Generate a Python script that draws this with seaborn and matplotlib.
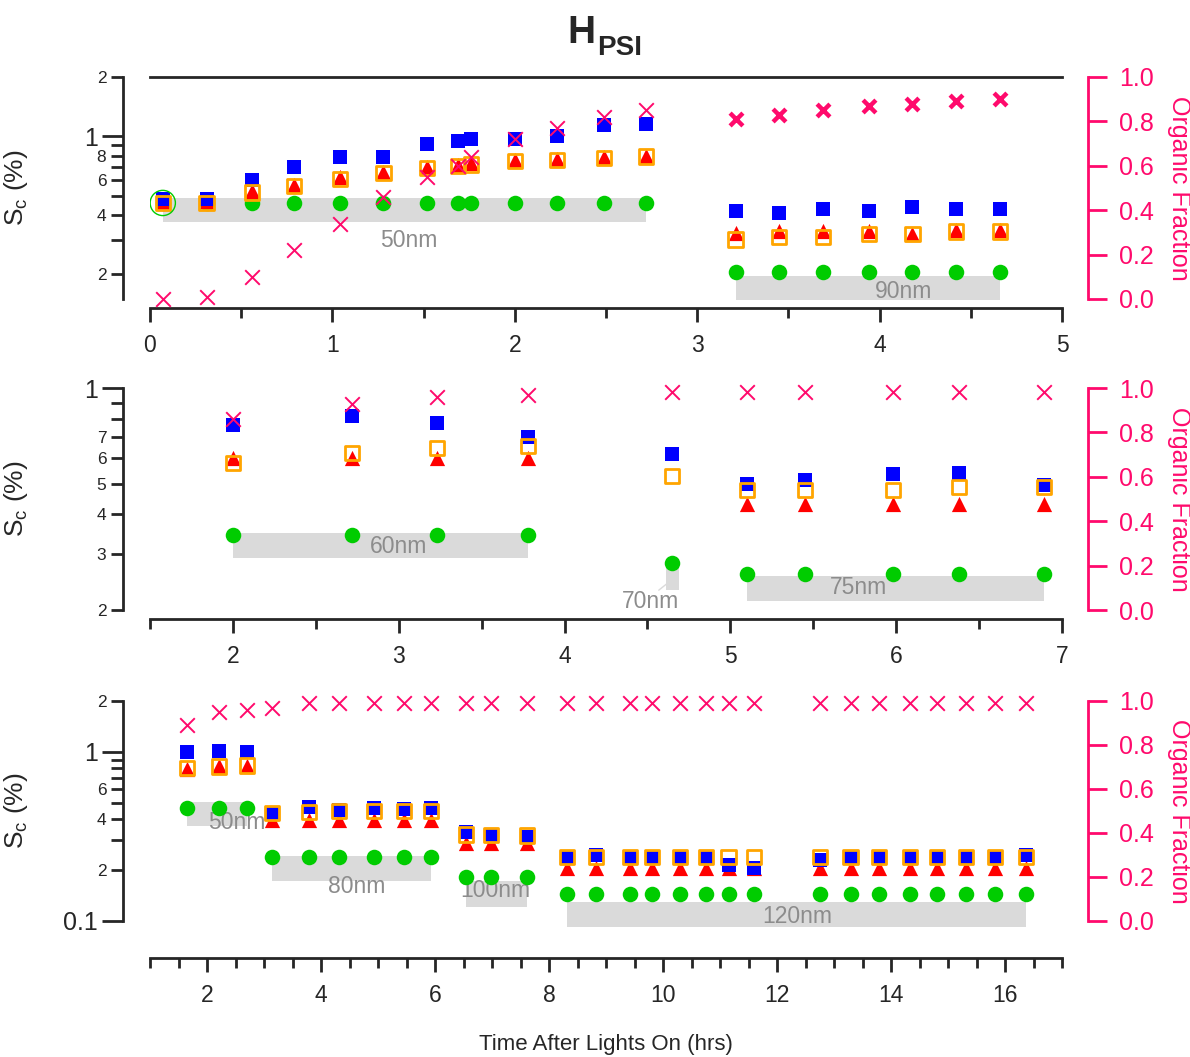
import numpy as np
import matplotlib.pyplot as plt
import seaborn as sns
from matplotlib.ticker import FixedLocator, FuncFormatter, MultipleLocator

sns.set_style("ticks")
plt.rcParams['font.family'] = ['Liberation Sans', 'DejaVu Sans']

# ---- data: top panel (0-5 h) ----
t1 = [0.07, 0.31, 0.56, 0.79, 1.04, 1.28, 1.52, 1.69, 1.76, 2.00, 2.23, 2.49, 2.72,
      3.21, 3.45, 3.69, 3.94, 4.18, 4.42, 4.66]
size1 = [50] * 13 + [90] * 7
blue1 = [0.48, 0.48, 0.60, 0.70, 0.79, 0.79, 0.92, 0.95, 0.97, 0.97, 1.00, 1.14, 1.15,
         0.42, 0.41, 0.43, 0.42, 0.44, 0.43, 0.43]
orange1 = [0.46, 0.46, 0.52, 0.56, 0.61, 0.65, 0.69, 0.71, 0.72, 0.75, 0.76, 0.78, 0.79,
           0.30, 0.31, 0.31, 0.32, 0.32, 0.33, 0.33]
red1 = [0.46, 0.47, 0.53, 0.57, 0.62, 0.66, 0.70, 0.72, 0.73, 0.76, 0.77, 0.79, 0.80,
        0.325, 0.33, 0.33, 0.33, 0.32, 0.335, 0.335]
green1 = [0.46] * 13 + [0.205] * 7
frac1 = [0.00, 0.01, 0.10, 0.22, 0.34, 0.46, 0.55, 0.60, 0.64, 0.72, 0.77, 0.82, 0.85,
         0.81, 0.83, 0.85, 0.87, 0.88, 0.89, 0.90]

# ---- data: middle panel ----
t2 = [2.00, 2.72, 3.23, 3.78, 4.65, 5.10, 5.45, 5.98, 6.38, 6.89]
size2 = [60] * 4 + [70] + [75] * 5
blue2 = [0.765, 0.816, 0.775, 0.70, 0.62, 0.50, 0.515, 0.535, 0.54, 0.495]
orange2 = [0.58, 0.625, 0.646, 0.657, 0.528, 0.477, 0.477, 0.477, 0.489, 0.489]
red2 = [0.60, 0.60, 0.60, 0.60, np.nan, 0.43, 0.43, 0.43, 0.43, 0.43]
green2 = [0.344] * 4 + [0.282] + [0.259] * 5
frac2 = [0.86, 0.93, 0.96, 0.97, 0.98, 0.98, 0.98, 0.98, 0.98, 0.98]

# ---- data: bottom panel ----
t3 = [1.65, 2.21, 2.70, 3.14, 3.79, 4.32, 4.93, 5.46, 5.93, 6.54, 6.98, 7.61,
      8.31, 8.83, 9.42, 9.81, 10.30, 10.75, 11.15, 11.60,
      12.75, 13.29, 13.79, 14.34, 14.81, 15.31, 15.82, 16.37]
size3 = [50] * 3 + [80] * 6 + [100] * 3 + [120] * 16
blue3 = [1.00, 1.01, 1.00, 0.43, 0.47, 0.455, 0.465, 0.46, 0.465, 0.335, 0.32, 0.315,
         0.24, 0.245, 0.24, 0.235, 0.235, 0.235, 0.215, 0.205,
         0.23, 0.24, 0.24, 0.24, 0.24, 0.24, 0.24, 0.245]
orange3 = [0.80, 0.82, 0.83, 0.435, 0.44, 0.445, 0.445, 0.445, 0.445, 0.325, 0.323, 0.32,
           0.24, 0.24, 0.24, 0.24, 0.24, 0.24, 0.24, 0.24,
           0.24, 0.24, 0.24, 0.24, 0.24, 0.24, 0.24, 0.24]
red3 = [0.79, 0.82, 0.83, 0.395, 0.395, 0.395, 0.395, 0.395, 0.395, 0.29, 0.29, 0.29,
        0.207, 0.207, 0.207, 0.207, 0.207, 0.207, 0.207, 0.207,
        0.207, 0.207, 0.207, 0.207, 0.207, 0.207, 0.207, 0.207]
green3 = [0.465] * 3 + [0.24] * 6 + [0.181] * 3 + [0.144] * 16
frac3 = [0.89, 0.95, 0.96, 0.97] + [0.99] * 24

# size-bin bands (y extent) and label spots
bands1 = {50: (0.37, 0.49), 90: (0.148, 0.197)}
labels1 = {50: (1.42, 0.297), 90: (4.13, 0.163)}
bands2 = {60: (0.292, 0.349), 70: (0.232, 0.276), 75: (0.213, 0.255)}
labels2 = {60: (3.0, 0.316), 70: (4.52, 0.213), 75: (5.77, 0.235)}
bands3 = {50: (0.365, 0.508), 80: (0.172, 0.242), 100: (0.121, 0.172), 120: (0.092, 0.129)}
labels3 = {50: (2.52, 0.38), 80: (4.62, 0.161), 100: (7.05, 0.151), 120: (12.36, 0.106)}

PINK = '#FF0A6C'
BLUE = '#0000FF'
ORANGE = '#FFA500'
RED = '#FF0000'
GREEN = '#00CC00'

W, H = 1190, 1057
fig = plt.figure(figsize=(W / 100, H / 100), dpi=100)


def rect(left, top, right, bottom):
    return [left / W, 1 - bottom / H, (right - left) / W, (bottom - top) / H]


def panel(r, t, size, blue, orange, red, green, frac, bands, labels,
          xlim, xmajor, ylim, ymajor, yminor, mlabels, xoff, top_line=False, bold_x=()):
    ax = fig.add_axes(r)
    ax.set_yscale('log')
    t_arr, s_arr = np.array(t), np.array(size)
    for sz, (lo, hi) in bands.items():
        tt = t_arr[s_arr == sz]
        x0, x1 = tt.min(), tt.max()
        if x0 == x1:
            x0, x1 = x0 - 0.04, x1 + 0.04
        ax.fill_between([x0, x1], lo, hi, color='#DADADA', lw=0, zorder=0.5, clip_on=False)
        lx, ly = labels[sz]
        ax.text(lx, ly, f'{sz}nm', color='#8C8C8C', fontsize=16.5, ha='center', va='center',
                zorder=1.5)

    sns.scatterplot(x=t, y=green, marker='o', color=GREEN, s=125, linewidth=0, ax=ax,
                    zorder=2, clip_on=False)
    sns.scatterplot(x=t, y=red, marker='^', color=RED, s=120, linewidth=0, ax=ax, zorder=3)
    sns.scatterplot(x=t, y=blue, marker='s', color=BLUE, s=105, linewidth=0, ax=ax, zorder=4)
    sns.scatterplot(x=t, y=orange, marker='s', color=ORANGE, edgecolor=ORANGE, s=105,
                    linewidth=2, ax=ax, zorder=5)
    ax.collections[-1].set_facecolor('none')

    ax.set_xlim(xlim)
    ax.set_ylim(ylim)
    ax.set_xlabel('')
    ax.set_ylabel('S$_\\mathregular{c}$ (%)', fontsize=19)
    ax.yaxis.set_label_coords(-0.132, 0.5)

    ax.xaxis.set_major_locator(MultipleLocator(xmajor))
    ax.xaxis.set_minor_locator(MultipleLocator(0.5))
    ax.yaxis.set_major_locator(FixedLocator(ymajor))
    ax.yaxis.set_major_formatter(FuncFormatter(lambda v, p: f'{v:g}'))
    ax.yaxis.set_minor_locator(FixedLocator(yminor))
    ax.yaxis.set_minor_formatter(FuncFormatter(lambda v, p: mlabels.get(round(v, 2), '')))
    ax.tick_params(axis='y', which='major', length=15, width=2, labelsize=18, pad=3,
                   direction='out')
    ax.tick_params(axis='y', which='minor', length=9, width=2, labelsize=12.5, pad=3,
                   direction='out')
    ax.tick_params(axis='x', which='major', length=10, width=2, labelsize=16.5, pad=9,
                   direction='out')
    ax.tick_params(axis='x', which='minor', length=7, width=2, direction='out')

    ax.spines['left'].set_position(('outward', 19.5))
    ax.spines['bottom'].set_position(('outward', xoff))
    for s in ['left', 'bottom', 'top']:
        ax.spines[s].set_linewidth(2)
    ax.spines['right'].set_visible(False)
    ax.spines['top'].set_visible(top_line)

    ax2 = ax.twinx()
    bold = np.array([sz in bold_x for sz in size])
    f_arr = np.array(frac)
    sns.scatterplot(x=t_arr[~bold], y=f_arr[~bold], marker='x', color=PINK, s=110,
                    linewidth=1.4, ax=ax2, clip_on=False)
    if bold.any():
        sns.scatterplot(x=t_arr[bold], y=f_arr[bold], marker='x', color=PINK, s=85,
                        linewidth=3.2, ax=ax2, clip_on=False)
    ax2.set_ylim(0, 1)
    ax2.set_yticks([0, 0.2, 0.4, 0.6, 0.8, 1.0])
    ax2.yaxis.set_major_formatter(FuncFormatter(lambda v, p: f'{v:.1f}'))
    ax2.tick_params(axis='y', colors=PINK, length=14, width=2, labelsize=18, pad=8)
    for s in ['left', 'bottom', 'top']:
        ax2.spines[s].set_visible(False)
    ax2.spines['right'].set_position(('outward', 19))
    ax2.spines['right'].set_color(PINK)
    ax2.spines['right'].set_linewidth(2)
    ax2.set_ylabel('Organic Fraction', color=PINK, fontsize=18, rotation=270,
                   va='center', ha='center')
    ax2.yaxis.set_label_coords(1.128, 0.5)
    return ax, ax2


ax_a, _ = panel(rect(150, 77, 1062, 299), t1, size1, blue1, orange1, red1, green1, frac1,
                bands1, labels1, (0, 5), 1, (0.15, 2), [1],
                [0.2, 0.3, 0.4, 0.5, 0.6, 0.7, 0.8, 0.9, 2],
                {0.2: '2', 0.4: '4', 0.6: '6', 0.8: '8', 2: '2'}, 6.5,
                top_line=True, bold_x=(90,))
# ring around the first point
sns.scatterplot(x=t1[:1], y=green1[:1], marker='o', s=330, facecolor='none',
                edgecolor=GREEN, linewidth=1, ax=ax_a, zorder=6)
ax_a.collections[-1].set_facecolor('none')

ax_b, _ = panel(rect(150, 388, 1062, 610), t2, size2, blue2, orange2, red2, green2, frac2,
                bands2, labels2, (1.5, 7), 1, (0.2, 1), [1],
                [0.2, 0.3, 0.4, 0.5, 0.6, 0.7, 0.8, 0.9],
                {0.2: '2', 0.3: '3', 0.4: '4', 0.5: '5', 0.6: '6', 0.7: '7'}, 6.5)
ax_b.annotate('', xy=(4.63, 0.245), xytext=(4.555, 0.228),
              arrowprops=dict(arrowstyle='-', color='#DADADA', lw=1))

ax_c, _ = panel(rect(150, 701, 1062, 921), t3, size3, blue3, orange3, red3, green3, frac3,
                bands3, labels3, (1, 17), 2, (0.1, 2), [0.1, 1],
                [0.2, 0.3, 0.4, 0.5, 0.6, 0.7, 0.8, 0.9, 2],
                {0.2: '2', 0.4: '4', 0.6: '6', 2: '2'}, 26.5)
ax_c.set_xlabel('Time After Lights On (hrs)', fontsize=16)
ax_c.xaxis.set_label_coords(0.5, -0.515)

# title H_PSI
fig.text(595 / W, 1 - 43 / H, 'H', fontsize=28, fontweight='bold', ha='right',
         va='baseline')
fig.text(597 / W, 1 - 55 / H, 'PSI', fontsize=20, fontweight='bold', ha='left',
         va='baseline')

fig.savefig('out.png', dpi=100)
